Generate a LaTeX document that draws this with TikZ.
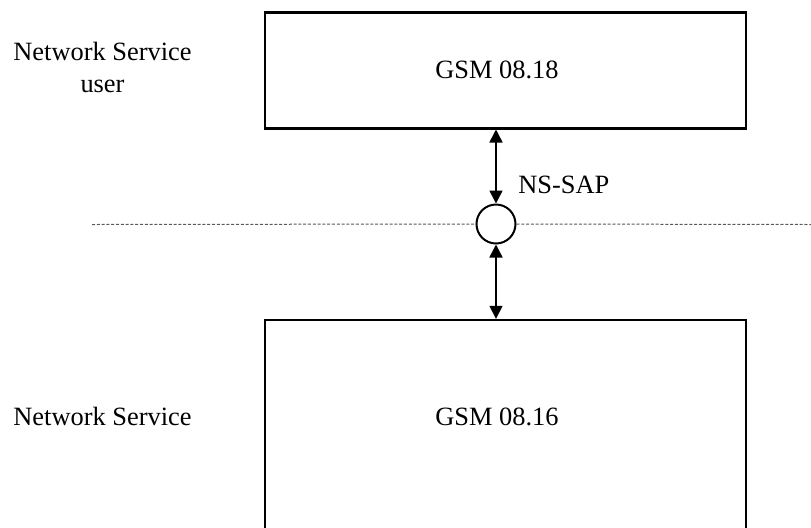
\documentclass[tikz,border=0pt]{standalone}
\usepackage{fontspec}
\setmainfont{Liberation Serif}
\usetikzlibrary{arrows.meta}
\def\lbl{\fontsize{13.2}{16}\selectfont}
\def\sapline{\draw[line width=0.5pt,dash pattern=on 1.5pt off 0.9pt,gray!70!black]}

\begin{document}
\begin{tikzpicture}[x=0.5pt,y=-0.5pt,
    layerbox/.style={draw,line width=1.2pt,minimum width=240.5pt,inner sep=0pt},
    sapdot/.style={circle,draw,fill=white,line width=1pt,minimum size=19.5pt,inner sep=0pt},
    sapflow/.style={line width=0.8pt,{Triangle[length=6.5pt,width=6.5pt]}-{Triangle[length=6.5pt,width=6.5pt]}},
    txt/.style={font=\lbl,inner sep=0pt,anchor=base}]
    \useasboundingbox (0,0) rectangle (811,527);
    \clip (0,0) rectangle (811,527);
    \node[layerbox,minimum height=58pt] (nsuser) at (505.5,70.3) {};
    \node[layerbox,minimum height=140pt] (ns) at (505.5,460) {};
    \node[sapdot] (sap) at (496,224) {};
    % dotted boundary
    \coordinate (bl) at (92,224.5);
    \coordinate (br) at (811,224.5);
    \sapline (bl) -- (sap.west);
    \sapline (sap.east) -- (br);
    \draw[sapflow] (sap |- nsuser.south) -- (sap.north);
    \draw[sapflow] (sap.south) -- (sap |- ns.north);
    % labels
    \node[txt] (usrtxt) at (102.5,60) {Network Service};
    \node[txt] (usrtxt2) at (102.5,92) {user};
    \node[txt] (nstxt) at (102.5,425) {Network Service};
    \node[txt] (t0818) at (497,78) {GSM 08.18};
    \node[txt] (t0816) at (497,425) {GSM 08.16};
    \node[txt,anchor=base west] (saptxt) at (518,193) {NS-SAP};
\end{tikzpicture}
\end{document}
